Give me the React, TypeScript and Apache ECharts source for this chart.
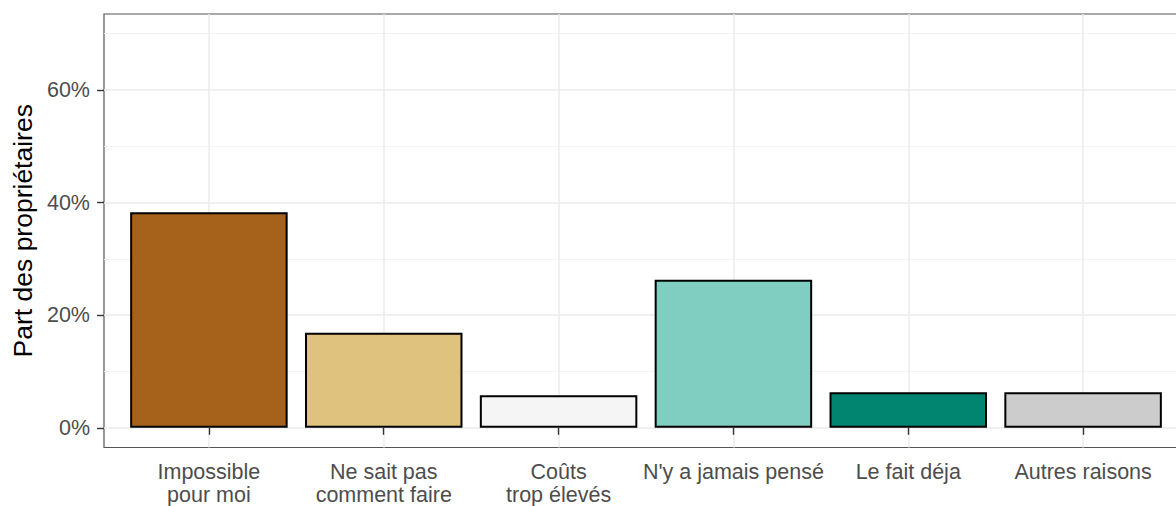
import React, { useEffect, useRef } from "react";
import * as echarts from "echarts";

const categories = [
  "Impossible\npour moi",
  "Ne sait pas\ncomment faire",
  "Coûts\ntrop élevés",
  "N'y a jamais pensé",
  "Le fait déja",
  "Autres raisons",
];
const values = [38.3, 16.9, 5.8, 26.3, 6.3, 6.3];
const colors = ["#A6611A", "#DFC27D", "#F5F5F5", "#80CDC1", "#018571", "#CCCCCC"];
const yTicks = [0, 20, 40, 60];
const xTicks = [1, 2, 3, 4, 5, 6];
const yTitle = "Part des propriétaires";

export default function App() {
  const ref = useRef<HTMLDivElement>(null);
  useEffect(() => {
    if (!ref.current) return;
    const chart = echarts.init(ref.current, undefined, { renderer: "svg" });
    const font = "'Liberation Sans', Arial, sans-serif";
    chart.setOption({
      animation: false,
      backgroundColor: "#FFFFFF",
      grid: {
        left: 104,
        top: 14,
        width: 1084,
        height: 437.5,
        show: true,
        borderColor: "#555555",
        borderWidth: 1.2,
        backgroundColor: "transparent",
        containLabel: false,
      },
      xAxis: {
        type: "value",
        min: 0.4,
        max: 6.6,
        minInterval: 1,
        maxInterval: 1,
        axisLine: { show: false },
        axisTick: {
          show: true,
          length: 7,
          lineStyle: { color: "#333333", width: 1.4 },
          customValues: xTicks,
        },
        axisLabel: {
          customValues: xTicks,
          margin: 12.5,
          color: "#4D4D4D",
          fontSize: 21.5,
          fontFamily: font,
          lineHeight: 23,
          formatter: (v: number) => categories[Math.round(v) - 1] ?? "",
        },
        splitLine: { show: true, lineStyle: { color: "#EBEBEB", width: 1.5 } },
      },
      yAxis: {
        type: "value",
        min: -3.5,
        max: 73.5,
        minInterval: 20,
        maxInterval: 20,
        name: yTitle,
        nameLocation: "middle",
        nameGap: 68,
        nameTextStyle: { color: "#000000", fontSize: 26.5, fontFamily: font },
        axisLine: { show: false },
        axisTick: {
          show: true,
          length: 7,
          lineStyle: { color: "#333333", width: 1.4 },
          customValues: yTicks,
        },
        axisLabel: {
          customValues: yTicks,
          margin: 14,
          color: "#4D4D4D",
          fontSize: 21.5,
          fontFamily: font,
          formatter: (v: number) => `${Math.round(v)}%`,
        },
        splitLine: { show: true, lineStyle: { color: "#EBEBEB", width: 1.5 } },
        minorTick: { show: false, splitNumber: 2 },
        minorSplitLine: { show: true, lineStyle: { color: "#F2F2F2", width: 0.9 } },
      },
      series: [
        {
          type: "bar",
          barWidth: 157.5,
          data: values.map((v, i) => ({
            value: [i + 1, v],
            itemStyle: { color: colors[i], borderColor: "#000000", borderWidth: 2 },
          })),
        },
      ],
    });
    return () => chart.dispose();
  }, []);
  return (
    <div style={{ position: "fixed", left: 0, top: 0, width: 1176, height: 506, overflow: "hidden" }}>
      <div ref={ref} style={{ width: 1200, height: 506 }} />
    </div>
  );
}
